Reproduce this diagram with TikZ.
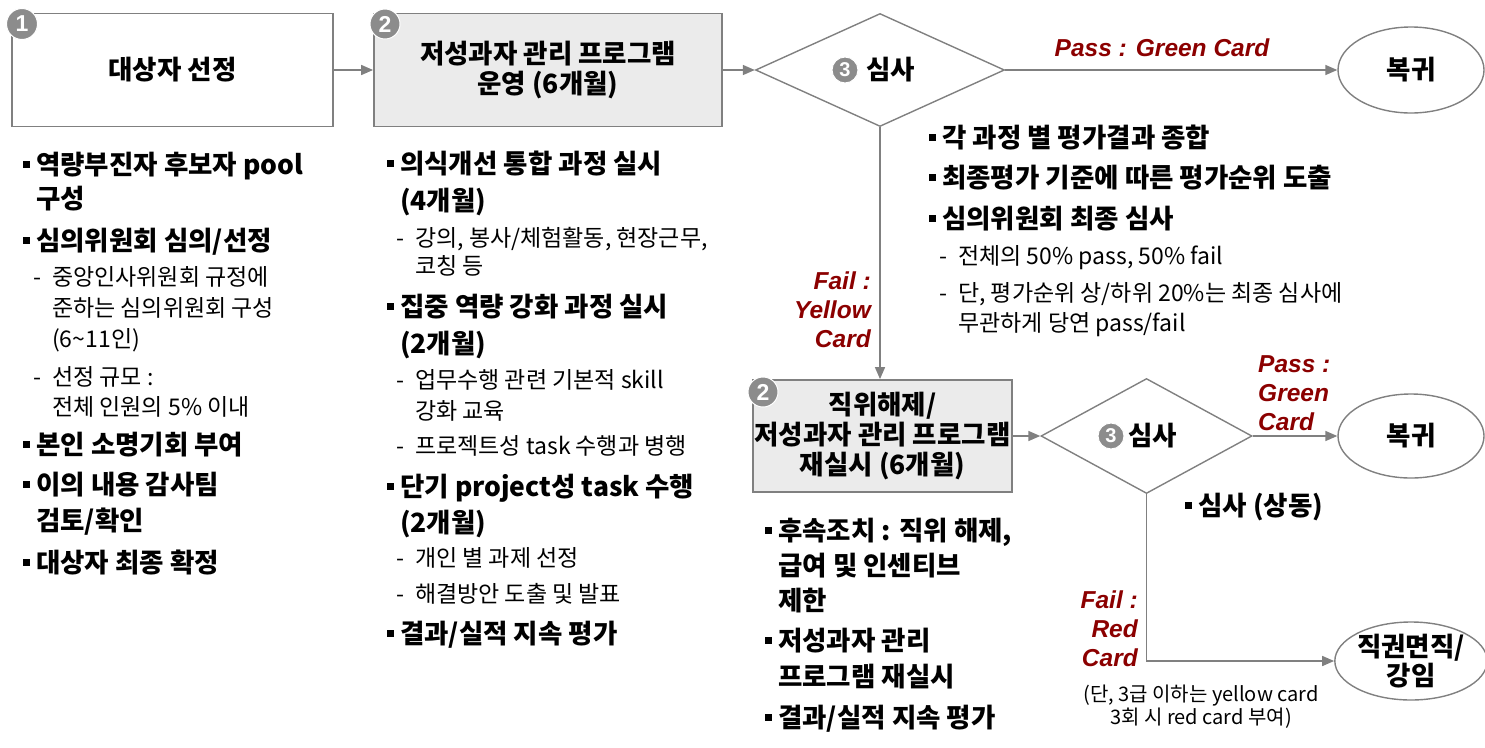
\documentclass[tikz,border=0pt]{standalone}
\usepackage{fontspec}
\setmainfont{Noto Sans CJK KR}
\newfontfamily\latinsf{Liberation Sans}
\usepackage{tikz}
\usetikzlibrary{positioning,arrows.meta,shapes.geometric}
\definecolor{lineGray}{HTML}{808080}
\definecolor{boxFill}{HTML}{EBEBEB}
\definecolor{badgeGray}{HTML}{8C8C8C}
\definecolor{cardRed}{HTML}{8B0000}
\newcommand{\bul}{\llap{\raisebox{7pt}{\rule{7pt}{7pt}}\hspace{6pt}}}
\newcommand{\dsh}{\llap{-\hspace{11pt}}}

\begin{document}
\begin{tikzpicture}[x=1pt, y=-1pt,
    stage/.style={draw=lineGray, line width=1.8pt, align=center, inner sep=0pt, font=\fontsize{26.5}{30}\selectfont\bfseries},
    check/.style={diamond, draw=lineGray, line width=1.4pt, inner sep=0pt},
    outcome/.style={ellipse, draw=lineGray, line width=1.4pt, minimum width=146pt, align=center, inner sep=0pt, font=\fontsize{26.5}{27}\selectfont\bfseries},
    badge/.style={circle, fill=badgeGray, draw=white, line width=1pt, minimum size=#1, inner sep=0pt, text=white, font=\latinsf\fontsize{23}{23}\selectfont\bfseries},
    item/.style={anchor=north west, align=left, inner sep=0pt, font=\fontsize{26.5}{34}\selectfont\bfseries},
    sub/.style={anchor=north west, align=left, inner sep=0pt, font=\fontsize{23}{30}\selectfont},
    card/.style={text=cardRed, inner sep=0pt, font=\latinsf\fontsize{24.5}{29}\selectfont\bfseries\itshape},
    arrow/.style={-{Triangle[length=12pt,width=10pt]}, draw=lineGray, line width=1.6pt},
  ]
  \useasboundingbox (0,0) rectangle (1485,747);

  % Top row
  \node[stage, minimum width=321pt, minimum height=113pt] (sel) at (172.5,70) {대상자 선정};
  \node[stage, fill=boxFill, minimum width=348pt, minimum height=113pt] (prog) at (548,70) {저성과자 관리 프로그램\\운영 (6개월)};
  \node[check, minimum width=249pt, minimum height=113pt] (chk1) at (880,70) {};
  \node[outcome, minimum height=86pt] (back1) at (1411,70) {복귀};
  \node[badge=31pt] (b1) at (22,24) {1};
  \node[badge=30pt] (b2) at (385,24) {2};
  \node[badge=26pt, font=\latinsf\fontsize{20}{20}\selectfont\bfseries] (b3a) at (845,70) {3};
  \node[anchor=west, inner sep=0pt, font=\fontsize{26.5}{26.5}\selectfont\bfseries] (t3a) at (866,70) {심사};

  % Second row
  \node[stage, fill=boxFill, minimum width=259pt, minimum height=112pt] (redo) at (882.5,436) {직위해제/\\저성과자 관리 프로그램\\재실시 (6개월)};
  \node[check, minimum width=211pt, minimum height=115pt] (chk2) at (1146.5,436) {};
  \node[outcome, minimum height=84pt] (back2) at (1411,436) {복귀};
  \node[outcome, minimum height=78pt] (demote) at (1411,661) {직권면직/\\강임};
  \node[badge=30pt] (b2b) at (763,392) {2};
  \node[badge=26pt, font=\latinsf\fontsize{20}{20}\selectfont\bfseries] (b3b) at (1111,436) {3};
  \node[anchor=west, inner sep=0pt, font=\fontsize{26.5}{26.5}\selectfont\bfseries] (t3b) at (1128,436) {심사};

  % Connectors
  \draw[arrow] (sel) -- (prog);
  \draw[arrow] (prog) -- (chk1);
  \draw[arrow] (chk1) -- (back1);
  \draw[arrow] (chk1.south) -- (chk1.south |- redo.north);
  \draw[arrow] (redo) -- (chk2);
  \draw[arrow] (chk2) -- (back2);
  \draw[arrow] (chk2.south) |- (demote);

  % Card labels
  \node[card] (passA) at (1162,48) {Pass : Green Card};
  \node[card, anchor=east, align=right] (failA) at (871,310) {Fail :\\Yellow\\Card};
  \node[card, anchor=west, align=left] (passB) at (1258,393) {Pass :\\Green\\Card};
  \node[card, anchor=east, align=right] (failB) at (1138,629) {Fail :\\Red\\Card};
  \node[align=center, inner sep=0pt, font=\fontsize{20}{23}\selectfont] (note) at (1201,707) {(단, 3급 이하는 yellow card\\3회 시 red card 부여)};

  % Column 1
  \node[item] (c1a) at (36,152) {\bul 역량부진자 후보자 pool\\구성};
  \node[item] (c1b) at (36,228) {\bul 심의위원회 심의/선정};
  \node[sub, font=\fontsize{23}{31}\selectfont] (c1c) at (52,266.5) {\dsh 중앙인사위원회 규정에\\준하는 심의위원회 구성\\(6\textasciitilde11인)};
  \node[sub] (c1d) at (52,366.5) {\dsh 선정 규모 :\\전체 인원의 5\% 이내};
  \node[item] (c1e) at (36,432) {\bul 본인 소명기회 부여};
  \node[item, font=\fontsize{26.5}{36}\selectfont\bfseries] (c1f) at (36,472) {\bul 이의 내용 감사팀\\검토/확인};
  \node[item] (c1g) at (36,550) {\bul 대상자 최종 확정};

  % Column 2
  \node[item] (c2a) at (400,151) {\bul 의식개선 통합 과정 실시\\[3pt](4개월)};
  \node[sub, font=\fontsize{23}{28}\selectfont] (c2b) at (415,227.5) {\dsh 강의, 봉사/체험활동, 현장근무,\\코칭 등};
  \node[item] (c2c) at (400,294) {\bul 집중 역량 강화 과정 실시\\[3pt](2개월)};
  \node[sub, font=\fontsize{23}{31}\selectfont] (c2d) at (415,369.5) {\dsh 업무수행 관련 기본적 skill\\강화 교육};
  \node[sub] (c2e) at (415,435.5) {\dsh 프로젝트성 task 수행과 병행};
  \node[item, font=\fontsize{26.5}{36}\selectfont\bfseries] (c2f) at (400,474) {\bul 단기 project성 task 수행\\(2개월)};
  \node[sub] (c2g) at (415,547.5) {\dsh 개인 별 과제 선정};
  \node[sub] (c2h) at (415,583.5) {\dsh 해결방안 도출 및 발표};
  \node[item] (c2i) at (400,621) {\bul 결과/실적 지속 평가};

  % Column 3
  \node[item] (c3a) at (942,125) {\bul 각 과정 별 평가결과 종합};
  \node[item] (c3b) at (942,165) {\bul 최종평가 기준에 따른 평가순위 도출};
  \node[item] (c3c) at (942,206) {\bul 심의위원회 최종 심사};
  \node[sub] (c3d) at (958,245.5) {\dsh 전체의 50\% pass, 50\% fail};
  \node[sub] (c3e) at (958,282.5) {\dsh 단, 평가순위 상/하위 20\%는 최종 심사에\\무관하게 당연 pass/fail};

  % Follow-up lists
  \node[item, font=\fontsize{26.5}{35}\selectfont\bfseries] (c4a) at (778,518) {\bul 후속조치 : 직위 해제,\\급여 및 인센티브\\제한};
  \node[item, font=\fontsize{26.5}{36}\selectfont\bfseries] (c4b) at (778,628) {\bul 저성과자 관리\\프로그램 재실시};
  \node[item] (c4c) at (778,705) {\bul 결과/실적 지속 평가};
  \node[item] (c5a) at (1198,493) {\bul 심사 (상동)};
\end{tikzpicture}
\end{document}
